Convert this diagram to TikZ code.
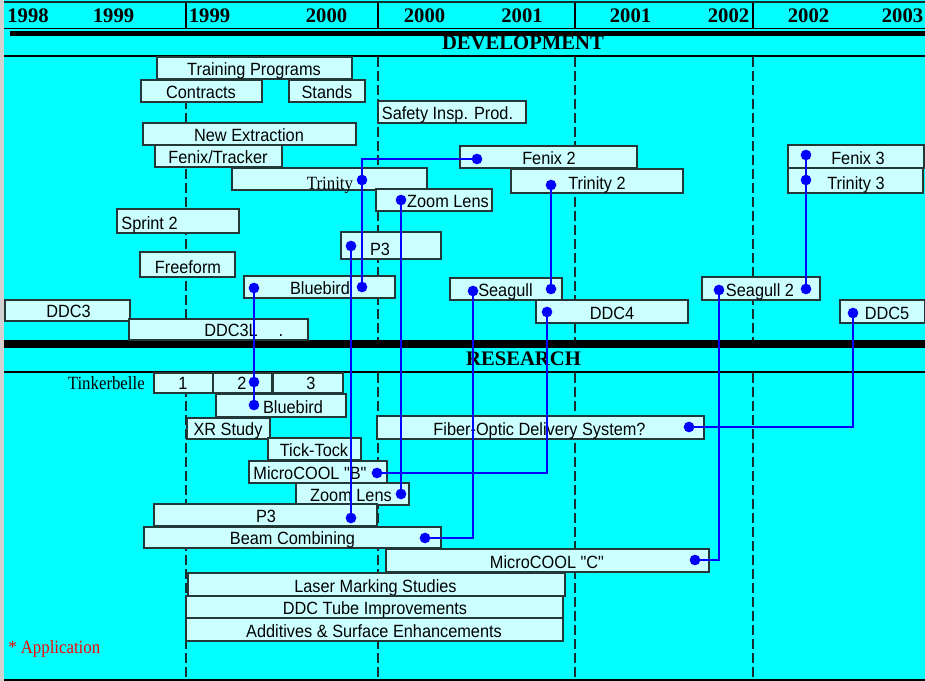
\documentclass[tikz,border=0pt]{standalone}
\usepackage{fontspec}
\setmainfont{Liberation Serif}
\newfontfamily\boxfont{Liberation Sans}[FakeStretch=0.92]
\newfontfamily\serc{Liberation Serif}[FakeStretch=0.9]
\definecolor{cyanbg}{RGB}{0,255,255}
\definecolor{boxfill}{RGB}{204,255,255}
\definecolor{boxline}{RGB}{35,55,55}
\definecolor{connblue}{RGB}{0,0,255}
\definecolor{dashc}{RGB}{20,45,45}
\definecolor{appred}{RGB}{255,0,0}
\tikzset{
  box/.style={draw=boxline, fill=boxfill, line width=1pt, inner sep=0pt, outer sep=0pt, rectangle},
  lbl/.style={font=\boxfont\fontsize{13.3}{14}\selectfont, inner sep=0pt, anchor=base, text=black},
  serlbl/.style={font=\serc\fontsize{14}{15}\selectfont, inner sep=0pt, anchor=base, text=black},
  dot/.style={circle, fill=connblue, inner sep=0pt, minimum size=8pt},
  link/.style={draw=connblue, line width=1.1pt},
  yr/.style={font=\bfseries\fontsize{15.5}{16}\selectfont, anchor=base, inner sep=0pt},
  gridline/.style={draw=dashc, line width=1pt, dash pattern=on 7.5pt off 3pt},
}
% name, x1, y1, x2, y2, text x, text
\newcommand\bx[7]{%
  \node[box, minimum width={(#4-#2)*0.75pt}, minimum height={(#5-#3)*0.75pt}] (#1) at ({(#2+#4)/2},{(#3+#5)/2}) {};
  \node[lbl] (#1t) at (#6,#5-3.5) {#7};}
\begin{document}
\begin{tikzpicture}[x=0.75pt,y=-0.75pt]
\useasboundingbox (0,0) rectangle (925,681);
% background
\fill[cyanbg] (0,0) rectangle (925,681);
\fill[gray!35] (0,0) rectangle (4,681);
\draw[dashc, line width=0.8pt] (4,2) -- (925,2);
% header
\draw[black, line width=1.3pt] (4,28.5) -- (925,28.5);
\fill[black] (10,31) rectangle (925,36);
\draw[black, line width=1.8pt] (4,56) -- (925,56);
\foreach \xx in {186,378,575,753} \draw[black, line width=1.5pt] (\xx,3) -- (\xx,28);
\node[yr] (y1) at (28,22.5) {1998};
\node[yr] (y2) at (113.5,22.5) {1999};
\node[yr] (y3) at (209.5,22.5) {1999};
\node[yr] (y4) at (326.5,22.5) {2000};
\node[yr] (y5) at (424.5,22.5) {2000};
\node[yr] (y6) at (522,22.5) {2001};
\node[yr] (y7) at (630.5,22.5) {2001};
\node[yr] (y8) at (728.5,22.5) {2002};
\node[yr] (y9) at (808.5,22.5) {2002};
\node[yr] (y10) at (902.5,22.5) {2003};
\node[yr] (dev) at (523,50) {DEVELOPMENT};
% separator
\fill[black] (4,340) rectangle (925,348);
\draw[black, line width=1.8pt] (4,372) -- (925,372);
\node[yr] (res) at (523.5,365.5) {RESEARCH};
\draw[black, line width=1.5pt] (4,680) -- (925,680);
% dashed year lines
\foreach \xx in {186,378,575,753} {
  \draw[gridline] (\xx,57) -- (\xx,340);
  \draw[gridline] (\xx,373) -- (\xx,679);
}
% development boxes
\bx{train}{157}{57}{352}{79}{254}{Training Programs}
\bx{contr}{141}{80}{262}{102}{201}{Contracts}
\bx{stand}{289}{80}{365}{102}{327}{Stands}
\bx{safe}{378}{101}{526}{123}{447.5}{Safety Insp. Prod.}
\bx{newex}{143}{123}{356}{145}{249}{New Extraction}
\bx{fenix}{155}{145}{282}{167}{218}{Fenix/Tracker}
\bx{fenixb}{460}{146}{637}{168}{549}{Fenix 2}
\bx{fenixc}{788}{145}{924}{168}{858}{Fenix 3}
\bx{trin}{232}{168}{427}{190}{330}{}
\node[serlbl] (trinl) at (330,189.5) {Trinity};
\bx{trinb}{511}{169}{683}{193}{597}{Trinity 2}
\bx{trinc}{788}{168}{923}{193}{856}{Trinity 3}
\bx{zoomd}{376}{189}{492}{211}{448}{Zoom Lens}
\bx{sprint}{117}{209}{239}{233}{149.5}{Sprint 2}
\bx{pthreed}{341}{232}{441}{259}{380}{P3}
\bx{free}{140}{252}{235}{277}{188}{Freeform}
\bx{blued}{244}{276}{395}{298}{320}{Bluebird}
\bx{seag}{450}{278}{562}{300}{505.5}{Seagull}
\bx{seagb}{702}{277}{820}{300}{760}{Seagull 2}
\bx{ddcc}{5}{300}{130}{321}{68.5}{DDC3}
\bx{ddccl}{129}{319}{308}{340}{231}{DDC3L}
\node[lbl] (ddcclp) at (281,336.5) {.};
\bx{ddcd}{536}{300}{688}{323}{612}{DDC4}
\bx{ddce}{840}{300}{925}{323}{887}{DDC5}
% research boxes
\node[serlbl, anchor=base east] (tinker) at (145,389) {Tinkerbelle};
\bx{tka}{154}{373}{213}{393}{183}{1}
\bx{tkb}{213}{373}{272}{393}{242}{2}
\bx{tkc}{273}{373}{343}{393}{311}{3}
\bx{bluer}{216}{394}{346}{417}{293}{Bluebird}
\bx{xr}{187}{418}{270}{439}{228}{XR Study}
\bx{fiber}{377}{416}{704}{439}{539.5}{Fiber-Optic Delivery System?}
\bx{tick}{268}{438}{361}{460}{314}{Tick-Tock}
\bx{mcb}{249}{461}{387}{483}{310}{MicroCOOL "B"}
\bx{zoomr}{296}{483}{409}{505}{351}{Zoom Lens}
\bx{pthreer}{154}{504}{377}{526}{266}{P3}
\bx{beam}{144}{527}{441}{548}{292.5}{Beam Combining}
\bx{mcc}{386}{549}{709}{572}{547}{MicroCOOL "C"}
\bx{laser}{188}{573}{565}{596}{375.5}{Laser Marking Studies}
\bx{tube}{186}{596}{563}{618}{375}{DDC Tube Improvements}
\bx{addit}{186}{618}{563}{641}{374}{Additives \& Surface Enhancements}
\node[serlbl, anchor=base west, text=appred] (app) at (8,653) {* Application};
% dots
\node[dot] (dfenixb) at (477,159) {};
\node[dot] (dtrin) at (362,180) {};
\node[dot] (dbluedb) at (362,287) {};
\node[dot] (dblueda) at (254,288) {};
\node[dot] (dzoomd) at (401,200) {};
\node[dot] (dpthreed) at (351,246) {};
\node[dot] (dtrinb) at (551,185) {};
\node[dot] (dseaga) at (473,291) {};
\node[dot] (dseagb) at (551,289) {};
\node[dot] (dddcd) at (547,312) {};
\node[dot] (dseagba) at (719,290) {};
\node[dot] (dseagbb) at (806,289) {};
\node[dot] (dfenixc) at (806,155) {};
\node[dot] (dtrinc) at (806,180) {};
\node[dot] (dddce) at (853,313) {};
\node[dot] (dtkb) at (254,382) {};
\node[dot] (dbluer) at (254,405) {};
\node[dot] (dfiber) at (689,427) {};
\node[dot] (dmcb) at (377,473) {};
\node[dot] (dzoomr) at (401,494) {};
\node[dot] (dpthreer) at (351,518) {};
\node[dot] (dbeam) at (425,538) {};
\node[dot] (dmcc) at (695,560) {};
% connectors
\draw[link] (dfenixb.center) -| (dtrin.center) -- (dbluedb.center);
\draw[link] (dzoomd.center) -- (dzoomr.center);
\draw[link] (dpthreed.center) -- (dpthreer.center);
\draw[link] (dblueda.center) -- (dtkb.center) -- (dbluer.center);
\draw[link] (dtrinb.center) -- (dseagb.center);
\draw[link] (dddcd.center) |- (dmcb.center);
\draw[link] (dseaga.center) |- (dbeam.center);
\draw[link] (dseagba.center) |- (dmcc.center);
\draw[link] (dfenixc.center) -- (dtrinc.center) -- (dseagbb.center);
\draw[link] (dddce.center) |- (dfiber.center);
\end{tikzpicture}
\end{document}
